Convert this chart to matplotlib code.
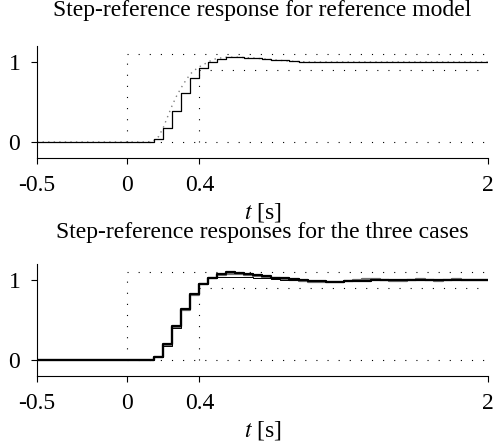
import matplotlib
matplotlib.use('Agg')
import matplotlib.pyplot as plt
import numpy as np

plt.rcParams['font.family'] = 'serif'
plt.rcParams['font.serif'] = ['Liberation Serif']
plt.rcParams['mathtext.fontset'] = 'stix'
plt.rcParams['font.size'] = 17

# sample instants (T = 0.05 s)
t_samp = np.round(np.arange(0, 2.0001, 0.05), 3)

y_model = [0, 0, 0, 0.04, 0.17, 0.39, 0.61, 0.80, 0.93, 1.00,
           1.04, 1.06, 1.06, 1.055, 1.05, 1.04, 1.03, 1.02, 1.01, 1.005,
           1.0, 1.0, 1.0, 1.0, 1.0, 1.0, 1.0, 1.0, 1.0, 1.0,
           1.0, 1.0, 1.0, 1.0, 1.0, 1.0, 1.0, 1.0, 1.0, 1.0, 1.0]

# continuous reference model output (gray dotted)
t_cont = [-0.5, 0.0, 0.1, 0.125, 0.15, 0.175, 0.2, 0.225, 0.25, 0.275, 0.3, 0.325,
          0.35, 0.375, 0.4, 0.425, 0.45, 0.475, 0.5, 0.55, 0.6, 0.7, 0.8, 0.9, 1.0, 2.0]
y_cont = [0, 0, 0, 0.005, 0.02, 0.07, 0.18, 0.32, 0.46, 0.58, 0.68, 0.77,
          0.85, 0.90, 0.94, 0.97, 1.0, 1.03, 1.045, 1.06, 1.06, 1.05, 1.03, 1.01, 1.0, 1.0]

y_case1 = [0, 0, 0, 0.04, 0.20, 0.42, 0.64, 0.82, 0.95, 1.03,
           1.08, 1.10, 1.09, 1.08, 1.06, 1.05, 1.03, 1.02, 1.01, 1.0,
           0.99, 0.99, 0.98, 0.98, 0.985, 0.99, 0.99, 0.995, 1.0, 1.0,
           1.0, 1.0, 1.0, 1.0, 1.0, 1.0, 1.0, 1.0, 1.0, 1.0, 1.0]
y_case2 = [0, 0, 0, 0.04, 0.18, 0.40, 0.64, 0.82, 0.96, 1.02,
           1.04, 1.04, 1.04, 1.035, 1.03, 1.02, 1.01, 1.0, 1.0, 0.995,
           0.99, 0.985, 0.98, 0.98, 0.985, 0.99, 0.995, 1.0, 1.0, 1.0,
           1.0, 1.0, 1.0, 1.0, 1.0, 1.0, 1.0, 1.0, 1.0, 1.0, 1.0]
y_case3 = [0, 0, 0, 0.04, 0.19, 0.41, 0.63, 0.81, 0.95, 1.02,
           1.06, 1.07, 1.07, 1.06, 1.05, 1.04, 1.02, 1.01, 1.0, 0.99,
           0.98, 0.98, 0.975, 0.98, 0.99, 1.0, 1.01, 1.01, 1.0, 0.99,
           0.99, 1.0, 1.01, 1.0, 0.99, 1.0, 1.01, 1.0, 1.0, 1.0, 1.0]

# specification template
t_rise = 0.4
y_over = 1.1
y_low = 0.9
t_end = 2.0

xticks = [-0.5, 0, 0.4, 2]
xticklabels = ['-0.5', '0', '0.4', '2']
yticks = [0, 1]

titles = ['Step-reference response for reference model',
          'Step-reference responses for the three cases']

t_full = np.concatenate([[-0.5], t_samp])


def spec_box(ax):
    ls = (0, (1, 9))
    kw = dict(color='k', lw=0.8, linestyle=ls)
    ax.plot([0, 0], [0, y_over], **kw)
    ax.plot([0, t_end], [y_over, y_over], **kw)
    ax.plot([t_rise, t_rise], [0, y_low], **kw)
    ax.plot([t_rise, t_end], [y_low, y_low], **kw)
    ax.plot([0, t_end], [0, 0], **kw)


def style(ax):
    ax.set_xlim(-0.5, 2.0)
    ax.set_ylim(-0.2, 1.2)
    ax.spines['top'].set_visible(False)
    ax.spines['right'].set_visible(False)
    ax.set_xticks(xticks)
    ax.set_xticklabels(xticklabels)
    ax.set_yticks(yticks)
    ax.tick_params(direction='out', length=4, width=0.8, pad=8)
    ax.set_xlabel('$t$ [s]', labelpad=3.5)


fig = plt.figure(figsize=(4.96, 4.47), dpi=100)
ax1 = fig.add_axes([0.0746, 0.6465, 0.909, 0.2506])
ax2 = fig.add_axes([0.0746, 0.1588, 0.909, 0.2506])

# top: reference model
spec_box(ax1)
ax1.plot(t_cont, y_cont, color='0.5', lw=1.0, linestyle=(0, (1, 3)))
ax1.step(t_full, np.concatenate([[0], y_model]), where='post', color='k', lw=0.9)
style(ax1)

# bottom: the three cases
spec_box(ax2)
ax2.step(t_full, np.concatenate([[0], y_case3]), where='post', color='0.45', lw=1.6)
ax2.step(t_full, np.concatenate([[0], y_case1]), where='post', color='k', lw=1.6)
ax2.step(t_full, np.concatenate([[0], y_case2]), where='post', color='k', lw=0.7)
style(ax2)

fig.text(0.528, 1 - 16 / 447, titles[0], ha='center', va='baseline')
fig.text(0.528, 1 - 238.5 / 447, titles[1], ha='center', va='baseline')

fig.savefig('out.png', dpi=100)
